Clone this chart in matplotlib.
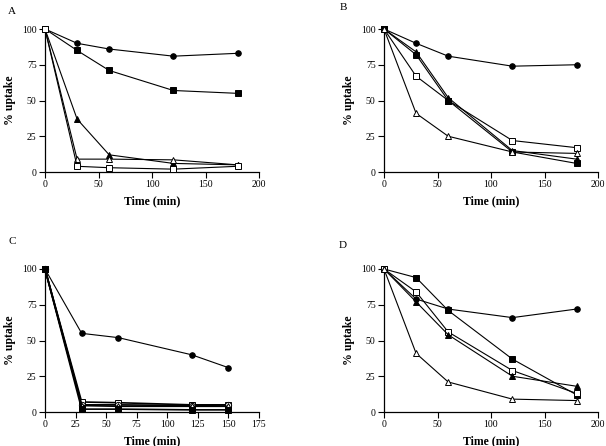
import matplotlib
matplotlib.use("Agg")
import matplotlib.pyplot as plt

plt.rcParams['font.family'] = ['Liberation Serif', 'DejaVu Serif']

# Panel A
time_a = [0, 30, 60, 120, 180]
a_circle_f = [100, 90, 86, 81, 83]
a_square_f = [100, 85, 71, 57, 55]
a_tri_f = [100, 37, 12, 6, 5]
a_tri_o = [100, 9, 9, 8.5, 5]
a_square_o = [100, 4, 3, 2, 4]

# Panel B
time_b = [0, 30, 60, 120, 180]
b_circle_f = [100, 90, 81, 74, 75]
b_square_o = [100, 67, 50, 22, 17]
b_tri_f = [100, 84, 52, 15, 9]
b_square_f = [100, 82, 50, 14, 6]
b_tri_o = [100, 41, 25, 14, 13]

# Panel C
time_c = [0, 30, 60, 120, 150]
c_circle_f = [100, 55, 52, 40, 31]
c_square_o = [100, 7, 6.5, 5, 5]
c_circle_o = [100, 5, 5, 4.5, 5]
c_tri_o = [100, 4.5, 4, 4, 4]
c_square_f = [100, 2, 2, 1.5, 1.5]

# Panel D
time_d = [0, 30, 60, 120, 180]
d_square_f = [100, 94, 71, 37, 12]
d_circle_f = [100, 79, 72, 66, 72]
d_square_o = [100, 84, 56, 29, 13]
d_tri_f = [100, 77, 54, 25, 18]
d_tri_o = [100, 41, 21, 9, 8]

yticks = [0, 25, 50, 75, 100]


def series(ax, t, y, marker, filled, ms=4.5, lw=0.8):
    ax.plot(t, y, color='black', lw=lw, marker=marker, markersize=ms,
            markerfacecolor='black' if filled else 'white',
            markeredgecolor='black', markeredgewidth=0.7, clip_on=False, zorder=3)


def style(ax, xmax, xticks):
    ax.set_xlim(0, xmax)
    ax.set_ylim(0, 100)
    ax.set_xticks(xticks)
    ax.set_yticks(yticks)
    for s in ['top', 'right']:
        ax.spines[s].set_visible(False)
    for s in ['left', 'bottom']:
        ax.spines[s].set_linewidth(0.9)
    ax.tick_params(direction='out', length=4, width=0.8, labelsize=7, pad=2)
    ax.set_xlabel('Time (min)', fontsize=8.5, fontweight='bold', labelpad=4)
    ax.set_ylabel('% uptake', fontsize=8.5, fontweight='bold', labelpad=4)


fig = plt.figure(figsize=(6.06, 4.46), dpi=100)
w, h = 214 / 606, 143 / 446
axA = fig.add_axes([45 / 606, 1 - 172 / 446, w, h])
axB = fig.add_axes([384 / 606, 1 - 172 / 446, w, h])
axC = fig.add_axes([45 / 606, 1 - 412 / 446, w, h])
axD = fig.add_axes([384 / 606, 1 - 412 / 446, w, h])

series(axA, time_a, a_circle_f, 'o', True, ms=4)
series(axA, time_a, a_square_f, 's', True)
series(axA, time_a, a_tri_f, '^', True)
series(axA, time_a, a_tri_o, '^', False)
series(axA, time_a, a_square_o, 's', False)
style(axA, 200, [0, 50, 100, 150, 200])

series(axB, time_b, b_circle_f, 'o', True, ms=4)
series(axB, time_b, b_square_o, 's', False)
series(axB, time_b, b_tri_f, '^', True)
series(axB, time_b, b_square_f, 's', True)
series(axB, time_b, b_tri_o, '^', False)
style(axB, 200, [0, 50, 100, 150, 200])

series(axC, time_c, c_circle_f, 'o', True, ms=4)
series(axC, time_c, c_square_o, 's', False, lw=1.2)
series(axC, time_c, c_circle_o, 'o', False, lw=1.2)
series(axC, time_c, c_tri_o, '^', False, lw=1.2)
series(axC, time_c, c_square_f, 's', True, lw=1.2)
style(axC, 175, [0, 25, 50, 75, 100, 125, 150, 175])

series(axD, time_d, d_square_f, 's', True)
series(axD, time_d, d_circle_f, 'o', True, ms=4)
series(axD, time_d, d_square_o, 's', False)
series(axD, time_d, d_tri_f, '^', True)
series(axD, time_d, d_tri_o, '^', False)
style(axD, 200, [0, 50, 100, 150, 200])

fig.text(12 / 606, 1 - 12 / 446, 'A', fontsize=8, va='center', ha='center')
fig.text(343 / 606, 1 - 8 / 446, 'B', fontsize=8, va='center', ha='center')
fig.text(12 / 606, 1 - 241 / 446, 'C', fontsize=8, va='center', ha='center')
fig.text(343 / 606, 1 - 245 / 446, 'D', fontsize=8, va='center', ha='center')

fig.savefig('out.png', dpi=100)
